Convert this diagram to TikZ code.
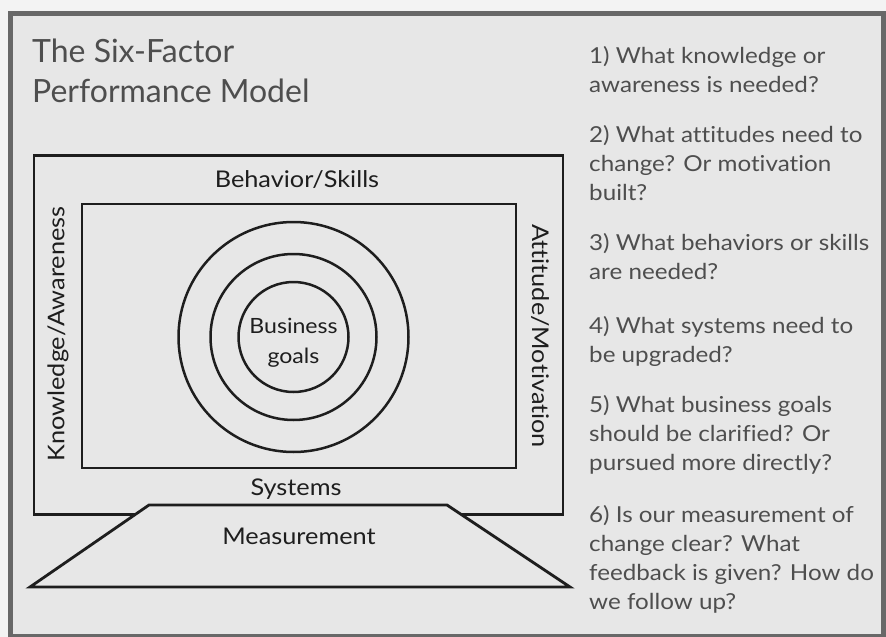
\documentclass[tikz,border=0pt]{standalone}
\usepackage{fontspec}
\setmainfont{Lato}[Ligatures=NoCommon]
\newfontfamily\widefont{Lato}[FakeStretch=1.1, Ligatures=NoCommon]
\definecolor{pagebg}{HTML}{F3F3F3}
\definecolor{panelbg}{HTML}{E7E7E7}
\definecolor{framegray}{HTML}{686868}
\definecolor{textgray}{HTML}{4E4E4E}
\definecolor{ink}{HTML}{1E1E1E}
\begin{document}
\begin{tikzpicture}[x=1pt,y=-1pt,
  shapeline/.style={draw=ink, line width=2.8pt},
  boxshape/.style={shapeline, rectangle, inner sep=0pt, outer sep=0pt},
  ring/.style={draw=ink, line width=2.5pt, circle, inner sep=0pt, outer sep=0pt},
  label/.style={text=ink, anchor=base, font=\widefont\fontsize{23}{30}\selectfont, inner sep=0pt},
  sidelabel/.style={text=ink, font=\widefont\fontsize{23}{30}\selectfont, inner sep=0pt},
  question/.style={text=textgray, anchor=base west, inner sep=0pt, font=\widefont\fontsize{22}{29}\selectfont},
  title/.style={text=textgray, anchor=base west, inner sep=0pt, font=\fontsize{32}{40}\selectfont}]
\useasboundingbox (0,0) rectangle (886,637);
\fill[pagebg] (0,0) rectangle (886,637);
\begin{scope}
\clip (0,0) rectangle (886,637);
\draw[framegray, line width=4.5pt, fill=panelbg] (10.5,13.5) rectangle (883.5,636);
\end{scope}

% title
\node[title] (title) at (32,62) {\parbox[t]{300pt}{\raggedright The Six-Factor\\Performance Model}};

% monitor
\node[boxshape, minimum width=529pt, minimum height=359pt] (monitor) at (298.5,335) {};
\node[boxshape, minimum width=434pt, minimum height=264pt] (screen) at (299,336) {};
\node[ring, minimum size=230pt] (outer) at (293.5,337) {};
\node[ring, minimum size=166pt] (middle) at (293.5,337) {};
\node[ring, minimum size=110pt] (goals) at (293.5,337) {};
\node[text=ink, anchor=base, inner sep=0pt, font=\widefont\fontsize{21}{30}\selectfont] (goalstext) at (293.5,333) {\parbox[t]{120pt}{\centering Business\\goals}};

\node[label] (behavior) at (297,187) {Behavior/Skills};
\node[label] (systems) at (296,495) {Systems};
\node[sidelabel, rotate=90] (knowledge) at (58,334) {Knowledge/Awareness};
\node[sidelabel, rotate=-90] (attitude) at (540,336) {Attitude/Motivation};

% base
\coordinate (bl) at (30,587);
\coordinate (tl) at (149,505);
\coordinate (tr) at (447,505);
\coordinate (br) at (570,587);
\draw[shapeline, fill=panelbg, line join=miter] (bl) -- (tl) -- (tr) -- (br) -- cycle;
\node[label] (measurement) at (299,544) {Measurement};

% questions
\node[question] (q1) at (589,63) {\parbox[t]{292pt}{\raggedright 1) What knowledge or\\awareness is needed?}};
\node[question] (q2) at (589,142) {\parbox[t]{292pt}{\raggedright 2) What attitudes need to\\change? Or motivation\\built?}};
\node[question] (q3) at (589,250) {\parbox[t]{292pt}{\raggedright 3) What behaviors or skills\\are needed?}};
\node[question] (q4) at (589,333) {\parbox[t]{292pt}{\raggedright 4) What systems need to\\be upgraded?}};
\node[question] (q5) at (589,412) {\parbox[t]{292pt}{\raggedright 5) What business goals\\should be clarified? Or\\pursued more directly?}};
\node[question] (q6) at (589,522) {\parbox[t]{292pt}{\raggedright 6) Is our measurement of\\change clear? What\\feedback is given? How do\\we follow up?}};
\end{tikzpicture}
\end{document}
